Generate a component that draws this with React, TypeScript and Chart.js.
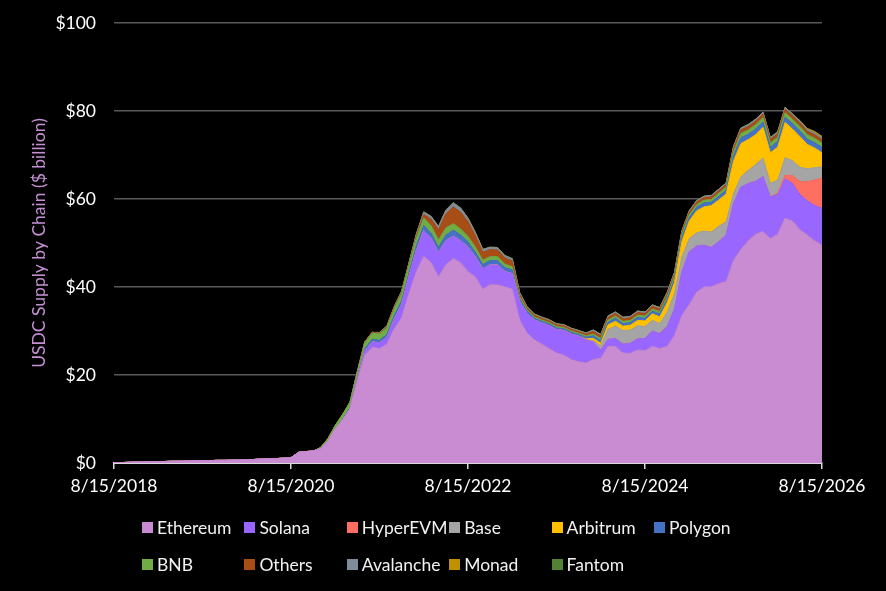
import React, { useEffect, useRef } from "react";
import { Chart, registerables } from "chart.js";

Chart.register(...registerables);

const FONT = 'Lato, "DejaVu Sans", sans-serif';

// x axis: months since 8/15/2018, one point per month
const START_YEAR = 2018;
const MONTHS = Array.from({ length: 97 }, (_, i) => i);
const TICK_STEP = 24;

// each chain: first month with supply, then monthly values ($ billion)
const ETHEREUM_START = 0;
const ETHEREUM = [
  0.1, 0.1, 0.15, 0.2, 0.25, 0.3, 0.3, 0.35, 0.4, 0.4,
  0.45, 0.5, 0.5, 0.55, 0.6, 0.6, 0.65, 0.7, 0.75, 0.8,
  0.9, 1.0, 1.0, 1.1, 1.2, 2.4, 2.6, 2.7, 3.2, 4.9,
  7.7, 9.8, 12.3, 18.5, 24.5, 26.3, 26, 27, 30.5, 33,
  38.5, 43.5, 47, 45.5, 42.3, 45, 46.5, 45.5, 43.5, 42.3,
  39.5, 40.5, 40.5, 40, 39.5, 32.5, 29.5, 28, 27, 26,
  25, 24.5, 23.5, 23, 22.7, 23.5, 23.8, 26.5, 26.5, 25,
  24.9, 25.7, 25.5, 26.5, 26, 26.5, 29, 33.5, 36, 38.8,
  40, 40, 40.8, 41.2, 46, 48.5, 50.5, 52, 52.6, 51,
  52, 55.6, 55, 53, 51.8, 50.5, 49.5,
];

const SOLANA_START = 33;
const SOLANA = [
  0.5, 0.9, 1.2, 1.3, 1.5, 2.2, 3,
  3.8, 4.8, 5.8, 5.5, 5.5, 5.5, 5, 5, 5.5, 4.5,
  4.6, 4.5, 4.5, 3.5, 3.5, 4.2, 4.5, 4.5, 4.8, 5.2,
  5.3, 5.6, 5.8, 5.8, 5.3, 4, 1.8, 1.6, 1.8, 2,
  2.3, 2.5, 2.8, 3.5, 3.4, 4.5, 6, 10, 12, 10.5,
  9.5, 9, 9.5, 10.6, 13, 14.2, 13, 12, 12.5, 9.5,
  9, 9, 8.5, 8, 7.8, 8, 8.4,
];

const HYPEREVM_START = 90;
const HYPEREVM = [0.3, 0.8, 1.8, 3, 4.3, 5.8, 6.8];

const BASE_START = 65;
const BASE = [
  0.3, 1.0, 2.3, 2.8, 3.1,
  3.0, 3.0, 2.7, 2.4, 2.3, 3.2, 3.5, 3.3, 3.0, 3.0,
  3.2, 3.5, 3.5, 3.0, 2.2, 2.3, 3.0, 3.8, 4.2, 3.0,
  3.0, 4.0, 3.4, 3.2, 3.0, 2.8, 2.6,
];

const ARBITRUM_START = 64;
const ARBITRUM = [
  0.2, 0.5, 0.6, 1.0, 1.1, 1.0,
  1.1, 1.2, 1.3, 1.5, 1.5, 2.2, 2.5, 3.5, 4.0, 5.0,
  5.5, 6.0, 6.0, 6.3, 7.4, 7.6, 7.0, 6.8, 7.0, 7.0,
  7.5, 8.0, 7.2, 7.0, 5.5, 4.5, 3.2,
];

const POLYGON_START = 31;
const POLYGON = [
  0.2, 0.3, 0.4, 0.5, 0.6, 0.6, 0.7, 0.8, 0.9,
  1.0, 1.1, 1.2, 1.2, 1.2, 1.3, 1.4, 1.3, 1.2, 1.1,
  1.0, 1.0, 1.0, 0.9, 0.9, 0.6, 0.5, 0.4, 0.4, 0.4,
  0.4, 0.4, 0.4, 0.4, 0.4, 0.6, 0.6, 0.6, 0.7, 0.6,
  0.6, 0.7, 0.6, 0.6, 0.7, 0.8, 0.8, 0.9, 0.8, 0.8,
  0.9, 0.8, 0.8, 0.9, 1.2, 1.3, 1.2, 1.3, 1.2, 1.2,
  1.3, 1.2, 1.2, 1.3, 1.2, 1.2, 1.2,
];

const BNB_START = 28;
const BNB = [
  0.3, 0.6, 0.8, 1.0, 1.2, 1.3, 1.4, 1.4, 1.4, 1.5, 1.5, 1.6,
  1.6, 1.7, 1.7, 1.7, 1.7, 1.6, 1.5, 1.4, 1.3, 1.2,
  1.0, 0.9, 0.9, 0.8, 0.7, 0.5, 0.4, 0.3, 0.3, 0.3,
  0.3, 0.3, 0.3, 0.3, 0.3, 0.4, 0.5, 0.5, 0.5, 0.5,
  0.5, 0.5, 0.5, 0.5, 0.5, 0.6, 0.6, 0.6, 0.6, 0.6,
  0.6, 0.6, 0.7, 0.7, 0.9, 1.0, 1.0, 1.0, 1.0, 1.0,
  1.0, 1.0, 1.0, 1.0, 1.0, 1.0, 1.0,
];

const OTHERS_START = 33;
const OTHERS = [
  0.1, 0.2, 0.2, 0.2, 0.2, 0.3, 0.3,
  0.3, 0.5, 0.8, 1.5, 2.3, 3.2, 3.8, 3.8, 3.3, 2.5,
  1.8, 1.6, 1.5, 1.4, 1.3, 0.6, 0.4, 0.4, 0.4, 0.4,
  0.4, 0.4, 0.4, 0.4, 0.4, 0.6, 0.6, 0.6, 0.6, 0.6,
  0.6, 0.6, 0.6, 0.6, 0.6, 0.6, 0.6, 0.6, 0.6, 0.6,
  0.6, 0.6, 0.6, 0.6, 0.8, 0.8, 0.8, 0.8, 0.8, 0.8,
  0.8, 0.8, 0.8, 0.8, 0.8, 0.8, 0.8,
];

const AVALANCHE_START = 36;
const AVALANCHE = [
  0.1, 0.2, 0.2, 0.2,
  0.3, 0.4, 0.5, 0.6, 0.7, 0.8, 0.9, 0.9, 0.8, 0.7,
  0.6, 0.5, 0.5, 0.5, 0.5, 0.3, 0.2, 0.2, 0.2, 0.2,
  0.2, 0.2, 0.2, 0.2, 0.2, 0.3, 0.3, 0.3, 0.3, 0.3,
  0.3, 0.3, 0.3, 0.3, 0.3, 0.3, 0.3, 0.3, 0.3, 0.3,
  0.3, 0.3, 0.3, 0.3, 0.4, 0.4, 0.4, 0.4, 0.4, 0.4,
  0.4, 0.4, 0.4, 0.4, 0.4, 0.4, 0.4,
];

const MONAD_START = 93;
const MONAD = [0.1, 0.2, 0.3, 0.3];

const FANTOM_START = 36;
const FANTOM = [
  0.1, 0.1, 0.1, 0.1,
  0.1, 0.1, 0.1, 0.1, 0.1, 0.1, 0.1, 0.1, 0.1, 0.1,
  0.1, 0.1, 0.1, 0.1, 0.1, 0.1, 0.1, 0.1, 0.1, 0.1,
  0.1, 0.05, 0.05, 0.05, 0.05, 0.05, 0.05, 0.05, 0.05, 0.05,
  0.05, 0.05, 0.05, 0.05, 0.05, 0.05, 0.05, 0.05, 0.05, 0.05,
  0.05, 0.05, 0.05, 0.05, 0.05, 0.05, 0.05, 0.05, 0.05, 0.05,
  0.05, 0.05, 0.05, 0.05, 0.05, 0.05, 0.05,
];

// stack order, bottom to top (same as the legend)
const SERIES = [
  { label: "Ethereum", color: "#c98bd1", start: ETHEREUM_START, values: ETHEREUM },
  { label: "Solana", color: "#9966ff", start: SOLANA_START, values: SOLANA },
  { label: "HyperEVM", color: "#ff6f61", start: HYPEREVM_START, values: HYPEREVM },
  { label: "Base", color: "#a5a5a5", start: BASE_START, values: BASE },
  { label: "Arbitrum", color: "#ffc000", start: ARBITRUM_START, values: ARBITRUM },
  { label: "Polygon", color: "#4472c4", start: POLYGON_START, values: POLYGON },
  { label: "BNB", color: "#70ad47", start: BNB_START, values: BNB },
  { label: "Others", color: "#a94d16", start: OTHERS_START, values: OTHERS },
  { label: "Avalanche", color: "#7d8b9b", start: AVALANCHE_START, values: AVALANCHE },
  { label: "Monad", color: "#bf9000", start: MONAD_START, values: MONAD },
  { label: "Fantom", color: "#548235", start: FANTOM_START, values: FANTOM },
];

const toPoints = (start: number, values: number[]) =>
  MONTHS.map((m) => ({ x: m, y: m < start ? 0 : values[m - start] ?? 0 }));

const monthLabel = (m: number) => `8/15/${START_YEAR + Math.round(m / 12)}`;

const Legend = () => (
  <div>
    {SERIES.map((s, i) => (
      <div
        key={s.label}
        style={{
          position: "absolute",
          left: 142 + (i % 6) * 102.4,
          top: 516 + Math.floor(i / 6) * 37,
          height: 22,
          display: "flex",
          alignItems: "center",
          color: "#f2f2f2",
          fontFamily: FONT,
          fontSize: 17.5,
          whiteSpace: "nowrap",
        }}
      >
        <span
          style={{
            display: "inline-block",
            width: 11,
            height: 11,
            background: s.color,
            marginRight: 4,
          }}
        />
        {s.label}
      </div>
    ))}
  </div>
);

export default function App() {
  const canvasRef = useRef<HTMLCanvasElement>(null);

  useEffect(() => {
    document.body.style.margin = "0";
    document.body.style.background = "#000";
    if (!canvasRef.current) return;

    const chart = new Chart(canvasRef.current, {
      type: "line",
      data: {
        datasets: SERIES.map((s, i) => ({
          label: s.label,
          data: toPoints(s.start, s.values),
          backgroundColor: s.color,
          borderColor: s.color,
          borderWidth: 1,
          pointRadius: 0,
          tension: 0,
          fill: i === 0 ? "origin" : "-1",
        })),
      },
      options: {
        animation: false,
        responsive: true,
        maintainAspectRatio: false,
        layout: { padding: { top: 23, right: 64, bottom: 88, left: 0 } },
        plugins: {
          legend: { display: false },
          tooltip: { enabled: false },
        },
        scales: {
          x: {
            type: "linear",
            min: 0,
            max: MONTHS[MONTHS.length - 1],
            grid: {
              drawOnChartArea: false,
              drawTicks: true,
              tickLength: 6,
              color: "#d9d9d9",
              lineWidth: 1.5,
            },
            border: { display: true, color: "#d9d9d9", width: 2 },
            ticks: {
              stepSize: TICK_STEP,
              autoSkip: false,
              maxRotation: 0,
              padding: 7,
              color: "#ffffff",
              font: { family: FONT, size: 17.5 },
              callback: (v) => monthLabel(Number(v)),
            },
            afterFit: (scale) => {
              scale.height = 40;
            },
          },
          y: {
            stacked: true,
            min: 0,
            max: 100,
            grid: {
              color: "#595959",
              lineWidth: 1.5,
              drawTicks: true,
              tickLength: 15,
              tickColor: "rgba(0,0,0,0)",
            },
            border: { display: false },
            ticks: {
              stepSize: 20,
              padding: 3,
              color: "#ffffff",
              font: { family: FONT, size: 17.5 },
              callback: (v) => `$${v}`,
            },
            title: {
              display: true,
              text: "USDC Supply by Chain ($ billion)",
              color: "#c48fd3",
              font: { family: FONT, size: 17.5 },
              padding: { top: 29, bottom: 0 },
            },
            afterFit: (scale) => {
              scale.width = 114;
            },
          },
        },
      },
    });

    return () => chart.destroy();
  }, []);

  return (
    <div style={{ position: "relative", width: 886, height: 591, background: "#000" }}>
      <div style={{ position: "absolute", left: 0, top: 0, width: 886, height: 591 }}>
        <canvas ref={canvasRef} />
      </div>
      <Legend />
    </div>
  );
}
